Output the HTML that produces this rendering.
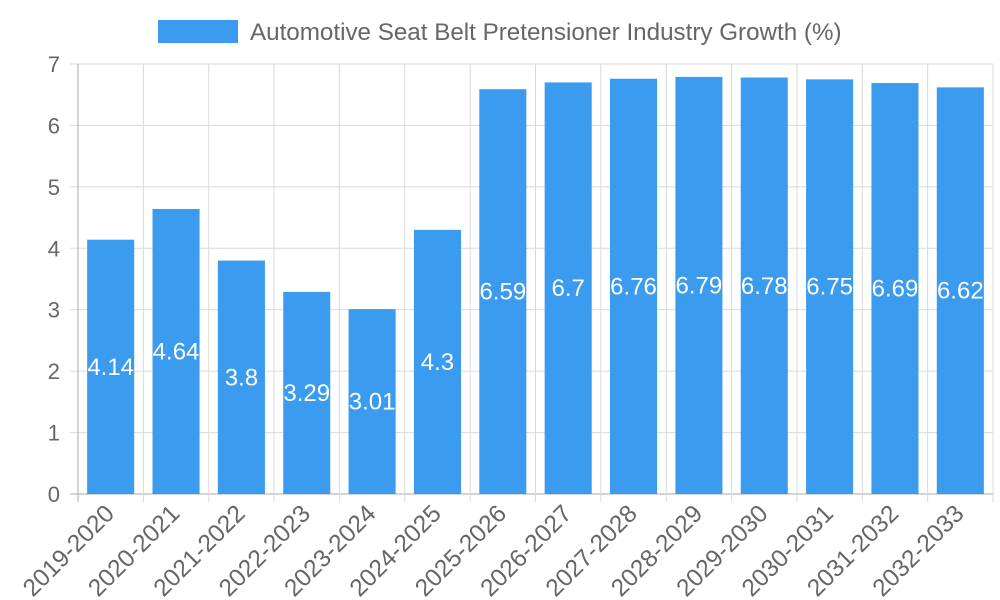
<!DOCTYPE html>
<html><head><meta charset="utf-8"><style>
body{margin:0;background:#fff;}
svg{display:block;font-family:"Liberation Sans",sans-serif;}
</style></head><body>
<svg id="chart" width="1000" height="600" viewBox="0 0 1000 600">
<g>
<rect x="158" y="20" width="80" height="23" fill="#3a9bef"/>
<text x="250" y="40" font-size="24.2" fill="#666">Automotive Seat Belt Pretensioner Industry Growth (%)</text>
</g>
<g id="grid"></g><g id="bars"></g><g id="labels"></g>
</svg>
<script>
const categories=["2019-2020","2020-2021","2021-2022","2022-2023","2023-2024","2024-2025","2025-2026","2026-2027","2027-2028","2028-2029","2029-2030","2030-2031","2031-2032","2032-2033"];
const values=[4.14,4.64,3.8,3.29,3.01,4.3,6.59,6.7,6.76,6.79,6.78,6.75,6.69,6.62];
const yTicks=[0,1,2,3,4,5,6,7];
const NS="http://www.w3.org/2000/svg";
const L=78,R=993,T=64,B=494,yMax=7;
const bw=(R-L)/categories.length;
const y=v=>B-(v/yMax)*(B-T);
const x=i=>L+i*bw;
function mk(tag,attrs,parent){const e=document.createElementNS(NS,tag);for(const k in attrs)e.setAttribute(k,attrs[k]);parent.appendChild(e);return e;}
const grid=document.getElementById('grid'),bars=document.getElementById('bars'),labels=document.getElementById('labels');
yTicks.forEach(t=>{
 const g=mk('line',{x1:70,x2:R,y1:y(t),y2:y(t),stroke:t===0?'#aaa':'#d9d9d9','stroke-width':1},grid);
 
 
 const tx=mk('text',{x:60,y:y(t)+8,'font-size':22,fill:'#666','text-anchor':'end'},grid);
 tx.textContent=t;
 
 
});
for(let i=0;i<=categories.length;i++){
 const g=mk('line',{x1:x(i),x2:x(i),y1:T,y2:B+8,stroke:i===0?'#aaa':'#d9d9d9','stroke-width':1},grid);
 
 
}
categories.forEach((c,i)=>{
 const cx=x(i)+bw/2,w=bw*0.72;
 const r=mk('rect',{x:cx-w/2,y:y(values[i]),width:w,height:B-y(values[i]),fill:'#3a9bef'},bars);
 
 
 const v=mk('text',{x:cx,y:(y(values[i])+B)/2+8,'font-size':24,fill:'#fff','text-anchor':'middle'},labels);
 v.textContent=values[i];
 
 
 const t=mk('text',{x:cx+5,y:B+21,'font-size':24.5,fill:'#666','text-anchor':'end',transform:`rotate(-45 ${cx+5} ${B+21})`},labels);
 t.textContent=c;
 
 
});
</script>
</body></html>
